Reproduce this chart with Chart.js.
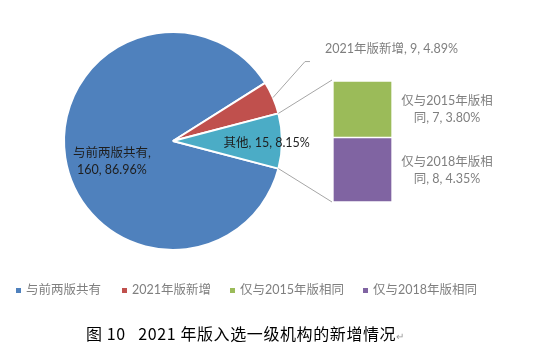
<!DOCTYPE html>
<html>
<head>
<meta charset="utf-8">
<script src="https://cdn.jsdelivr.net/npm/chart.js@4/dist/chart.umd.min.js"></script>
<style>
  body { margin: 0; background: #fff; }
  #wrap { position: relative; width: 533px; height: 349px; overflow: hidden; }
  #wrap canvas { position: absolute; left: 0; top: 0; }
  .lg { position: absolute; top: 282px; font: 12.5px Lato, "Noto Sans CJK SC", sans-serif; color: #7f7f7f; white-space: nowrap; line-height: 16px; }
  .lg i { position: absolute; left: -10px; top: 6px; width: 5px; height: 5px; }
  #cap { position: absolute; left: 86px; top: 321px; font: 16px "Noto Sans CJK SC", sans-serif; color: #000; white-space: nowrap; letter-spacing: 0.6px; }
  #cap span { color: #999; font-size: 10px; }
</style>
</head>
<body>
<div id="wrap">
  <canvas id="pie" width="533" height="349"></canvas>
  <canvas id="bar" width="533" height="349"></canvas>
  <div id="legend"></div>
  <div id="cap">图 10&nbsp;&nbsp;&nbsp;2021 年版入选一级机构的新增情况<span>↵</span></div>
</div>
<script>
// 数据
const pieLabels = ["与前两版共有", "2021年版新增", "其他"];
const pieValues = [160, 9, 15];
const barLabels = ["仅与2015年版相同", "仅与2018年版相同"];
const barValues = [7, 8];
const legendLabels = ["与前两版共有", "2021年版新增", "仅与2015年版相同", "仅与2018年版相同"];

const pieColors = ["#4F81BD", "#C0504D", "#4BACC6"];
const barColors = ["#9BBB59", "#8064A2"];
const legendColors = ["#4F81BD", "#C0504D", "#9BBB59", "#8064A2"];

const totale = pieValues.reduce((a, b) => a + b);
const pct = (v) => ((v / totale) * 100).toFixed(2) + "%";
const font = "12.5px Lato, 'Noto Sans CJK SC', sans-serif";

// legenda html
const legendX = [26, 132, 240, 373];
legendLabels.forEach((t, i) => {
  const d = document.createElement("div");
  d.className = "lg";
  d.style.left = legendX[i] + "px";
  d.innerHTML = `<i style="background:${legendColors[i]}"></i>${t}`;
  document.getElementById("legend").appendChild(d);
});

// etichette dentro la torta
const pieLabelPlugin = {
  id: "pieLabels",
  afterDatasetsDraw(chart) {
    const ctx = chart.ctx;
    const arcs = chart.getDatasetMeta(0).data;
    ctx.save();
    ctx.font = font;
    ctx.textAlign = "center";
    ctx.textBaseline = "middle";
    ctx.fillStyle = "#1e1e1e";

    // blu
    const a0 = arcs[0];
    const ang0 = (162 * Math.PI) / 180;
    const x0 = a0.x + Math.cos(ang0) * a0.outerRadius * 0.59;
    const y0 = a0.y + Math.sin(ang0) * a0.outerRadius * 0.59;
    ctx.fillText(pieLabels[0] + ",", x0, y0 - 8);
    ctx.fillText(`${pieValues[0]}, ${pct(pieValues[0])}`, x0, y0 + 9);

    // altro
    const a2 = arcs[2];
    const mid = (a2.startAngle + a2.endAngle) / 2;
    const x2 = a2.x + Math.cos(mid) * a2.outerRadius * 0.86;
    const y2 = a2.y + Math.sin(mid) * a2.outerRadius * 0.86 + 2;
    ctx.fillText(`${pieLabels[2]}, ${pieValues[2]}, ${pct(pieValues[2])}`, x2, y2);
    ctx.restore();
  },
};

const pieChart = new Chart(document.getElementById("pie"), {
  type: "pie",
  data: {
    labels: pieLabels,
    datasets: [
      {
        data: pieValues,
        backgroundColor: pieColors,
        borderColor: "#fff",
        borderWidth: 2,
      },
    ],
  },
  options: {
    responsive: false,
    animation: false,
    rotation: 90 + (pieValues[2] / totale) * 180,
    radius: 109,
    layout: { padding: { left: 0, top: 0, right: 187, bottom: 67 } },
    plugins: { legend: { display: false }, tooltip: { enabled: false } },
  },
  plugins: [pieLabelPlugin],
});

// linee di collegamento ed etichette della barra
const connectorPlugin = {
  id: "connectors",
  afterDatasetsDraw(chart) {
    const ctx = chart.ctx;
    const arcs = pieChart.getDatasetMeta(0).data;
    const top = chart.getDatasetMeta(1).data[0]; // 2015
    const bottom = chart.getDatasetMeta(0).data[0]; // 2018
    const left = top.x - top.width / 2;
    const right = top.x + top.width / 2;

    ctx.save();
    ctx.strokeStyle = "#a6a6a6";
    ctx.lineWidth = 1;

    const a2 = arcs[2];
    const r = a2.outerRadius;
    ctx.beginPath();
    ctx.moveTo(a2.x + Math.cos(a2.startAngle) * r, a2.y + Math.sin(a2.startAngle) * r);
    ctx.lineTo(left - 1, top.y - 1);
    ctx.moveTo(a2.x + Math.cos(a2.endAngle) * r, a2.y + Math.sin(a2.endAngle) * r);
    ctx.lineTo(left - 1, bottom.base);
    ctx.stroke();

    // linea guida rossa
    const a1 = arcs[1];
    const m1 = (a1.startAngle + a1.endAngle) / 2;
    const sx = a1.x + Math.cos(m1) * a1.outerRadius;
    const sy = a1.y + Math.sin(m1) * a1.outerRadius;
    ctx.beginPath();
    ctx.moveTo(sx, sy);
    ctx.lineTo(sx + 32, sy - 36);
    ctx.lineTo(sx + 37, sy - 36);
    ctx.stroke();

    ctx.font = font;
    ctx.fillStyle = "#7f7f7f";
    ctx.textBaseline = "middle";
    ctx.textAlign = "left";
    ctx.fillText(`${pieLabels[1]}, ${pieValues[1]}, ${pct(pieValues[1])}`, sx + 52, sy - 49);

    ctx.textAlign = "center";
    const cx = right + 55;
    [top, bottom].forEach((el, k) => {
      const i = k === 0 ? 0 : 1;
      const cy = (el.y + el.base) / 2;
      ctx.fillText(barLabels[i].slice(0, -1), cx, cy - 8);
      ctx.fillText(`${barLabels[i].slice(-1)}, ${barValues[i]}, ${pct(barValues[i])}`, cx, cy + 9);
    });
    ctx.restore();
  },
};

new Chart(document.getElementById("bar"), {
  type: "bar",
  data: {
    labels: [""],
    datasets: [1, 0].map((i) => ({
      label: barLabels[i],
      data: [barValues[i]],
      backgroundColor: barColors[i],
      borderColor: "#fff",
      borderWidth: 1,
      borderSkipped: false,
      barPercentage: 1,
      categoryPercentage: 1,
    })),
  },
  options: {
    responsive: false,
    animation: false,
    layout: { padding: { left: 333, right: 141, top: 81, bottom: 147 } },
    scales: {
      x: { display: false, stacked: true },
      y: { display: false, stacked: true, min: 0, max: barValues.reduce((a, b) => a + b) },
    },
    plugins: { legend: { display: false }, tooltip: { enabled: false } },
  },
  plugins: [connectorPlugin],
});
</script>
</body>
</html>
